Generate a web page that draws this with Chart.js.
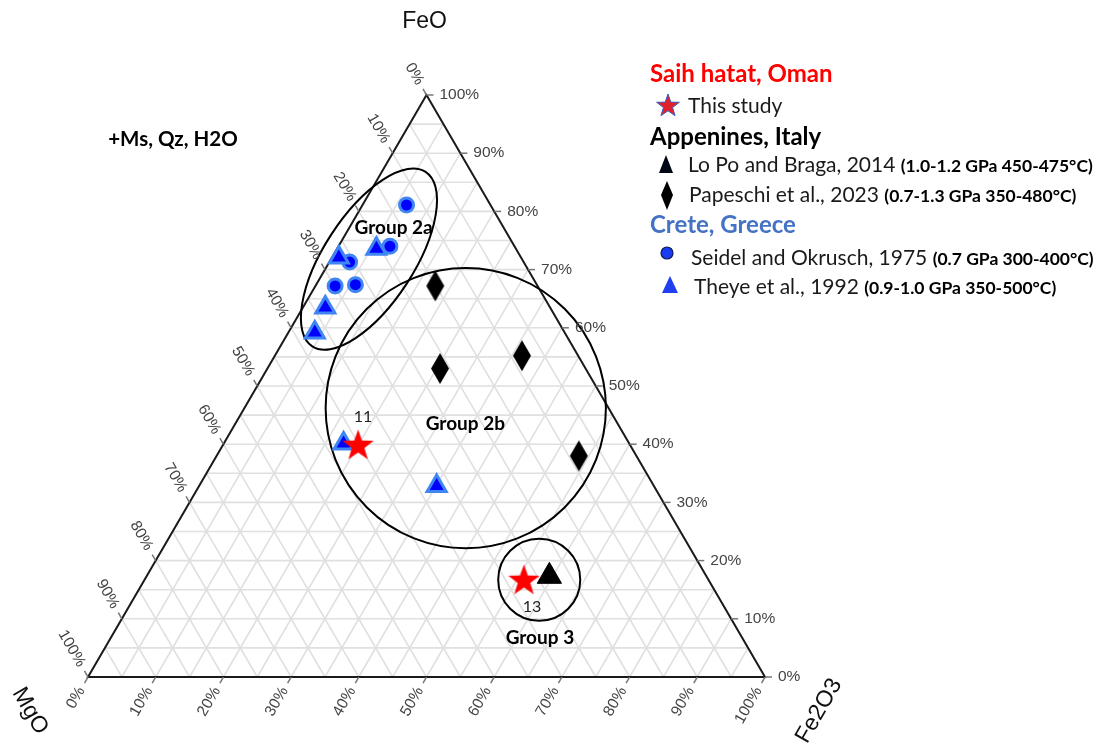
<!DOCTYPE html>
<html>
<head>
<meta charset="utf-8">
<title>FeO - MgO - Fe2O3</title>
<script src="https://cdn.jsdelivr.net/npm/chart.js@4.4.1/dist/chart.umd.min.js"></script>
<style>
  html, body { margin: 0; padding: 0; background: #fff; }
  #wrap { position: relative; width: 1102px; height: 745px; }
</style>
</head>
<body>
<div id="wrap"><canvas id="ternary" width="1102" height="745"></canvas></div>
<script>
// compositions, wt% of FeO + Fe2O3 + MgO
const thisStudyFeO   = [40.0, 16.8];
const thisStudyFe2O3 = [19.9, 56.0];
const thisStudyMgO   = [40.1, 27.2];
const thisStudyIds   = ['11', '13'];

const loPoFeO   = [17.3];
const loPoFe2O3 = [59.5];
const loPoMgO   = [23.2];

const papeschiFeO   = [67.2, 53.0, 55.2, 38.0];
const papeschiFe2O3 = [17.7, 25.5, 36.5, 53.5];
const papeschiMgO   = [15.1, 21.5, 8.3, 8.5];

const seidelFeO   = [81.1, 74.0, 71.3, 67.2, 67.4];
const seidelFe2O3 = [6.5, 7.6, 3.0, 2.9, 5.8];
const seidelMgO   = [12.4, 18.4, 25.7, 29.9, 26.8];

const theyeFeO   = [73.6, 72.1, 63.5, 59.2, 40.1, 32.8];
const theyeFe2O3 = [5.8, 1.0, 3.3, 3.9, 17.7, 35.1];
const theyeMgO   = [20.6, 26.9, 33.2, 36.9, 42.2, 32.1];

// axis ticks and grid
const tickValues = [0, 10, 20, 30, 40, 50, 60, 70, 80, 90, 100];
const tickLabels = ['0%', '10%', '20%', '30%', '40%', '50%', '60%', '70%', '80%', '90%', '100%'];
const gridValues = [5, 10, 15, 20, 25, 30, 35, 40, 45, 50, 55, 60, 65, 70, 75, 80, 85, 90, 95];

// groups: centre composition (FeO, Fe2O3), radii as fraction of the triangle side
const groupNames = ['Group 2a', 'Group 2b', 'Group 3'];
const groupFeO   = [71.8, 46.2, 16.7];
const groupFe2O3 = [5.6, 32.7, 58.3];
const groupRx    = [0.1536, 0.207, 0.0606];
const groupRy    = [0.0665, 0.207, 0.0606];
const groupTilt  = [-57, 0, 0];

// ternary -> plot coordinates (MgO left, Fe2O3 right, FeO apex)
function toXY(feo, fe2o3) {
  return { x: fe2o3 / 100 + feo / 200, y: feo / 100 };
}
function points(feo, fe2o3) {
  return feo.map((v, i) => toXY(v, fe2o3[i]));
}

function starImage(R, fill, stroke) {
  const c = document.createElement('canvas');
  c.width = c.height = Math.ceil(R * 2 + 4);
  const g = c.getContext('2d');
  starPath(g, c.width / 2, c.height / 2 + R * 0.1, R);
  g.fillStyle = fill;
  g.fill();
  if (stroke) { g.strokeStyle = stroke; g.lineWidth = 1.2; g.stroke(); }
  return c;
}
function starPath(g, cx, cy, R) {
  const r = R * 0.4;
  g.beginPath();
  for (let k = 0; k < 10; k++) {
    const rad = k % 2 ? r : R;
    const ang = -Math.PI / 2 + k * Math.PI / 5;
    const px = cx + rad * Math.cos(ang), py = cy + rad * Math.sin(ang);
    k ? g.lineTo(px, py) : g.moveTo(px, py);
  }
  g.closePath();
}
function diamondImage(w, h, fill) {
  const c = document.createElement('canvas');
  c.width = w + 2; c.height = h + 2;
  const g = c.getContext('2d');
  g.beginPath();
  g.moveTo(c.width / 2, 1);
  g.lineTo(c.width - 1, c.height / 2);
  g.lineTo(c.width / 2, c.height - 1);
  g.lineTo(1, c.height / 2);
  g.closePath();
  g.fillStyle = fill;
  g.fill();
  return c;
}

const redStar = starImage(16.5, '#ff0000');
const blackDiamond = diamondImage(18, 31, '#000');

const BLUE = '#0000ff', LIGHTBLUE = '#3f86f2';
const TICKFONT = '15.5px "Liberation Sans", Arial, sans-serif';
const LABELFONT = 'Lato, "Open Sans", sans-serif';

const ternaryPlugin = {
  id: 'ternary',
  beforeDatasetsDraw(chart) {
    const { ctx, scales: { x, y } } = chart;
    const P = (feo, fe2o3) => {
      const q = toXY(feo, fe2o3);
      return [x.getPixelForValue(q.x), y.getPixelForValue(q.y)];
    };
    const seg = (a, b) => { ctx.moveTo(a[0], a[1]); ctx.lineTo(b[0], b[1]); };
    ctx.save();
    // grid
    ctx.strokeStyle = '#e0e0e0';
    ctx.lineWidth = 1.6;
    ctx.beginPath();
    gridValues.forEach(v => {
      seg(P(v, 0), P(v, 100 - v));
      seg(P(0, v), P(100 - v, v));
      seg(P(0, 100 - v), P(100 - v, 0));
    });
    ctx.stroke();
    // frame
    ctx.strokeStyle = '#1a1a1a';
    ctx.lineWidth = 2;
    ctx.beginPath();
    const A = P(100, 0), L = P(0, 0), R = P(0, 100);
    ctx.moveTo(A[0], A[1]); ctx.lineTo(R[0], R[1]); ctx.lineTo(L[0], L[1]); ctx.closePath();
    ctx.stroke();
    // group outlines
    const side = x.getPixelForValue(1) - x.getPixelForValue(0);
    ctx.strokeStyle = '#000';
    ctx.lineWidth = 2;
    groupNames.forEach((n, i) => {
      const c = P(groupFeO[i], groupFe2O3[i]);
      ctx.beginPath();
      ctx.ellipse(c[0], c[1], groupRx[i] * side, groupRy[i] * side, groupTilt[i] * Math.PI / 180, 0, Math.PI * 2);
      ctx.stroke();
    });
    ctx.restore();
  },
  afterDatasetsDraw(chart) {
    const { ctx, scales: { x, y } } = chart;
    const P = (feo, fe2o3) => {
      const q = toXY(feo, fe2o3);
      return [x.getPixelForValue(q.x), y.getPixelForValue(q.y)];
    };
    ctx.save();
    // ticks + tick labels on the three sides
    const s60 = Math.sin(Math.PI / 3), c60 = 0.5;
    const sides = [
      { at: t => P(t, 100 - t), dir: [1, 0], rot: 0 },               // FeO, right edge
      { at: t => P(0, t), dir: [-c60, s60], rot: -Math.PI / 3 },      // Fe2O3, bottom
      { at: t => P(100 - t, 0), dir: [-c60, -s60], rot: Math.PI / 3 } // MgO, left edge
    ];
    ctx.strokeStyle = '#777';
    ctx.lineWidth = 1.5;
    ctx.fillStyle = '#444';
    ctx.font = TICKFONT;
    ctx.textBaseline = 'middle';
    sides.forEach(sd => {
      tickValues.forEach((t, i) => {
        const p = sd.at(t);
        ctx.beginPath();
        ctx.moveTo(p[0], p[1]);
        ctx.lineTo(p[0] + sd.dir[0] * 7, p[1] + sd.dir[1] * 7);
        ctx.stroke();
        const lx = p[0] + sd.dir[0] * 13, ly = p[1] + sd.dir[1] * 13;
        ctx.save();
        ctx.translate(lx, ly);
        if (sd.rot) {
          ctx.rotate(sd.rot);
          ctx.textAlign = 'right';
        } else {
          ctx.textAlign = 'left';
        }
        ctx.fillText(tickLabels[i], 0, 0);
        ctx.restore();
      });
    });
    // axis titles
    const A = P(100, 0), L = P(0, 0), R = P(0, 100);
    ctx.fillStyle = '#111';
    ctx.font = '23px "Liberation Sans", Arial, sans-serif';
    ctx.textAlign = 'center';
    ctx.fillText('FeO', A[0] - 2, A[1] - 73);
    ctx.save();
    ctx.translate(L[0] - 58, L[1] + 34);
    ctx.rotate(Math.PI / 3);
    ctx.fillText('MgO', 0, 0);
    ctx.restore();
    ctx.save();
    ctx.translate(R[0] + 54, R[1] + 34);
    ctx.rotate(-Math.PI / 3);
    ctx.fillText('Fe2O3', 0, 0);
    ctx.restore();

    // sample numbers next to the stars
    ctx.font = '16px ' + LABELFONT;
    ctx.fillStyle = '#222';
    const idOffset = [[5, -27], [8, 28]];
    thisStudyIds.forEach((id, i) => {
      const p = P(thisStudyFeO[i], thisStudyFe2O3[i]);
      ctx.fillText(id, p[0] + idOffset[i][0], p[1] + idOffset[i][1]);
    });

    // group names and assemblage note
    ctx.fillStyle = '#000';
    const notes = [
      ['Group 2a', 77.15, 6.57, 19],
      ['Group 2b', 43.47, 34.0, 19],
      ['Group 3', 6.7, 63.4, 19],
      ['+Ms, Qz, H2O', 92.3, -33.6, 20.5]
    ];
    notes.forEach(n => {
      const p = P(n[1], n[2]);
      ctx.font = 'bold ' + n[3] + 'px ' + LABELFONT;
      ctx.fillText(n[0], p[0], p[1]);
    });

    drawLegend(ctx);
    ctx.restore();
  }
};

function drawLegend(ctx) {
  ctx.textAlign = 'left';
  ctx.textBaseline = 'middle';
  const head = (txt, col, yy) => {
    ctx.font = 'bold 24px ' + LABELFONT;
    ctx.fillStyle = col;
    ctx.fillText(txt, 650, yy);
  };
  const entry = (txt, note, xx, yy) => {
    ctx.font = '21px ' + LABELFONT;
    ctx.fillStyle = '#1a1a1a';
    ctx.fillText(txt, xx, yy);
    if (note) {
      const w = ctx.measureText(txt + ' ').width;
      ctx.font = 'bold 17.5px ' + LABELFONT;
      ctx.fillStyle = '#000';
      ctx.fillText(note, xx + w, yy + 1);
    }
  };
  head('Saih hatat, Oman', '#ff0000', 74);
  starPath(ctx, 668, 106, 12);
  ctx.fillStyle = '#e0202a';
  ctx.fill();
  ctx.strokeStyle = '#3b5bbf';
  ctx.lineWidth = 1;
  ctx.stroke();
  entry('This study', null, 688, 106);

  head('Appenines, Italy', '#000', 137);
  ctx.beginPath();
  ctx.moveTo(666, 155); ctx.lineTo(673, 173); ctx.lineTo(659, 173); ctx.closePath();
  ctx.fillStyle = '#000814';
  ctx.fill();
  entry('Lo Po and Braga, 2014', '(1.0-1.2 GPa 450-475\u00b0C)', 688, 165);
  ctx.beginPath();
  ctx.moveTo(667, 181); ctx.lineTo(673, 195); ctx.lineTo(667, 210); ctx.lineTo(661, 195); ctx.closePath();
  ctx.fillStyle = '#000';
  ctx.fill();
  entry('Papeschi et al., 2023', '(0.7-1.3 GPa 350-480\u00b0C)', 689, 195);

  head('Crete, Greece', '#4472c4', 225);
  ctx.beginPath();
  ctx.arc(667, 253, 6, 0, Math.PI * 2);
  ctx.fillStyle = '#1a3cf0';
  ctx.fill();
  ctx.strokeStyle = '#0b1a5a';
  ctx.lineWidth = 1.2;
  ctx.stroke();
  entry('Seidel and Okrusch, 1975', '(0.7 GPa 300-400\u00b0C)', 691, 258);
  ctx.beginPath();
  ctx.moveTo(670, 276); ctx.lineTo(678, 293); ctx.lineTo(662, 293); ctx.closePath();
  ctx.fillStyle = '#1f3ff0';
  ctx.fill();
  entry('Theye et al., 1992', '(0.9-1.0 GPa 350-500\u00b0C)', 694, 287);
}

new Chart(document.getElementById('ternary'), {
  type: 'scatter',
  data: {
    datasets: [
      { label: 'This study', data: points(thisStudyFeO, thisStudyFe2O3),
        pointStyle: redStar },
      { label: 'Lo Po and Braga, 2014', data: points(loPoFeO, loPoFe2O3),
        pointStyle: 'triangle', radius: 14, backgroundColor: '#000', borderColor: '#000', borderWidth: 1 },
      { label: 'Papeschi et al., 2023', data: points(papeschiFeO, papeschiFe2O3),
        pointStyle: blackDiamond },
      { label: 'Theye et al., 1992', data: points(theyeFeO, theyeFe2O3),
        pointStyle: 'triangle', radius: 11, backgroundColor: BLUE, borderColor: LIGHTBLUE, borderWidth: 3 },
      { label: 'Seidel and Okrusch, 1975', data: points(seidelFeO, seidelFe2O3),
        pointStyle: 'circle', radius: 7, backgroundColor: BLUE, borderColor: LIGHTBLUE, borderWidth: 3 }
    ]
  },
  options: {
    responsive: false,
    devicePixelRatio: 1,
    animation: false,
    events: [],
    clip: false,
    layout: { padding: { left: 88, right: 337, top: 95, bottom: 68 } },
    scales: {
      x: { type: 'linear', min: 0, max: 1, display: false },
      y: { type: 'linear', min: 0, max: 1, display: false }
    },
    plugins: { legend: { display: false }, tooltip: { enabled: false } }
  },
  plugins: [ternaryPlugin]
});
</script>
</body>
</html>
